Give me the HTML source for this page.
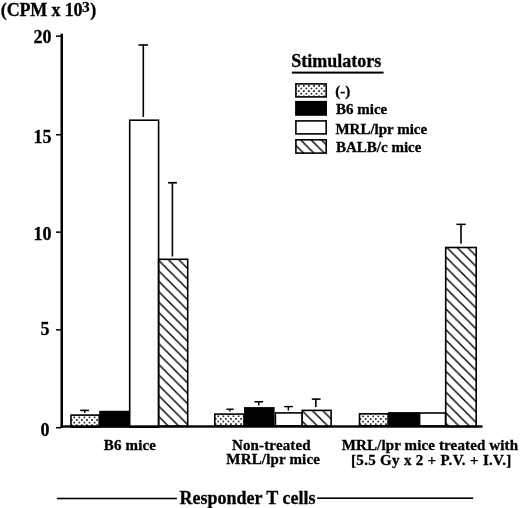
<!DOCTYPE html>
<html><head><meta charset="utf-8"><style>
html,body{margin:0;padding:0;background:#fff;width:520px;height:508px;overflow:hidden}
svg{display:block;will-change:transform}
text{font-family:"Liberation Serif",serif;font-weight:bold;fill:#000;stroke:#000;stroke-width:0.3px}
</style></head><body>
<svg width="520" height="508" viewBox="0 0 520 508">
<defs>
<pattern id="d1" patternUnits="userSpaceOnUse" width="5.1" height="5.2" x="74.2" y="417.4"><circle cx="0" cy="0" r="0.95" fill="#000"/><circle cx="5.1" cy="0" r="0.95" fill="#000"/><circle cx="0" cy="5.2" r="0.95" fill="#000"/><circle cx="5.1" cy="5.2" r="0.95" fill="#000"/><circle cx="2.55" cy="2.6" r="0.95" fill="#000"/></pattern>
<pattern id="d2" patternUnits="userSpaceOnUse" width="5.1" height="5.2" x="218.2" y="416.3"><circle cx="0" cy="0" r="0.95" fill="#000"/><circle cx="5.1" cy="0" r="0.95" fill="#000"/><circle cx="0" cy="5.2" r="0.95" fill="#000"/><circle cx="5.1" cy="5.2" r="0.95" fill="#000"/><circle cx="2.55" cy="2.6" r="0.95" fill="#000"/></pattern>
<pattern id="d3" patternUnits="userSpaceOnUse" width="5.1" height="5.2" x="363" y="416.4"><circle cx="0" cy="0" r="0.95" fill="#000"/><circle cx="5.1" cy="0" r="0.95" fill="#000"/><circle cx="0" cy="5.2" r="0.95" fill="#000"/><circle cx="5.1" cy="5.2" r="0.95" fill="#000"/><circle cx="2.55" cy="2.6" r="0.95" fill="#000"/></pattern>
<pattern id="dl" patternUnits="userSpaceOnUse" width="5.1" height="5.2" x="298.7" y="85.9"><circle cx="0" cy="0" r="0.95" fill="#000"/><circle cx="5.1" cy="0" r="0.95" fill="#000"/><circle cx="0" cy="5.2" r="0.95" fill="#000"/><circle cx="5.1" cy="5.2" r="0.95" fill="#000"/><circle cx="2.55" cy="2.6" r="0.95" fill="#000"/></pattern>
<pattern id="h1" patternUnits="userSpaceOnUse" width="10.4" height="10.4" x="156.8" y="258.5"><path d="M-2,-2 L12.4,12.4 M-2,8.4 L2,12.4 M8.4,-2 L12.4,2" stroke="#000" stroke-width="1.4"/></pattern>
<pattern id="h2" patternUnits="userSpaceOnUse" width="10.4" height="10.4" x="301" y="409.6"><path d="M-2,-2 L12.4,12.4 M-2,8.4 L2,12.4 M8.4,-2 L12.4,2" stroke="#000" stroke-width="1.4"/></pattern>
<pattern id="h3" patternUnits="userSpaceOnUse" width="10.4" height="10.4" x="446" y="246.7"><path d="M-2,-2 L12.4,12.4 M-2,8.4 L2,12.4 M8.4,-2 L12.4,2" stroke="#000" stroke-width="1.4"/></pattern>
<pattern id="hl" patternUnits="userSpaceOnUse" width="10.4" height="10.4" x="299.8" y="139"><path d="M-2,-2 L12.4,12.4 M-2,8.4 L2,12.4 M8.4,-2 L12.4,2" stroke="#000" stroke-width="1.4"/></pattern>
</defs>

<!-- title -->
<text x="0.8" y="16.3" font-size="18" textLength="81.8" lengthAdjust="spacing">(CPM x 10</text><text x="82.1" y="11.65" font-size="15.5">3</text><text x="90.3" y="16.3" font-size="18">)</text>

<!-- y axis labels -->
<g font-size="18" text-anchor="end">
<text x="51.6" y="42.5">20</text>
<text x="51.6" y="143">15</text>
<text x="51.6" y="239.5">10</text>
<text x="49.6" y="334.8">5</text>
<text x="49.4" y="436">0</text>
</g>

<!-- axis -->
<rect x="60.5" y="33.7" width="2.5" height="394.3" fill="#000"/>
<g fill="#000">
<rect x="56" y="35.4" width="5" height="1.5"/>
<rect x="56" y="134" width="5" height="1.5"/>
<rect x="56" y="231.4" width="5" height="1.5"/>
<rect x="56" y="329.1" width="5" height="1.5"/>
<rect x="56" y="426.9" width="5" height="1.6"/>
</g>

<!-- bars -->
<g stroke="#000" stroke-width="1.6">
<!-- group 1 -->
<rect x="71" y="415.1" width="28.2" height="12" fill="url(#d1)"/>
<rect x="100" y="411.6" width="28.9" height="15" fill="#000"/>
<rect x="129.7" y="120.2" width="28.9" height="307" fill="#fff"/>
<rect x="158.6" y="259.3" width="29.1" height="167" fill="url(#h1)"/>
<!-- group 2 -->
<rect x="214.8" y="414.1" width="29.2" height="12" fill="url(#d2)"/>
<rect x="244.8" y="407.9" width="29" height="18" fill="#000"/>
<rect x="275.4" y="412.9" width="26.8" height="13" fill="#fff"/>
<rect x="302.2" y="410.4" width="28.9" height="16" fill="url(#h2)"/>
<!-- group 3 -->
<rect x="359.5" y="413.8" width="28.6" height="12" fill="url(#d3)"/>
<rect x="388.9" y="412.9" width="29.9" height="13" fill="#000"/>
<rect x="419.6" y="413" width="26" height="13" fill="#fff"/>
<rect x="445.7" y="247.5" width="30.5" height="179" fill="url(#h3)"/>
</g>

<!-- baseline -->
<rect x="60.5" y="425.3" width="422" height="2.4" fill="#000"/>

<!-- error bars -->
<g fill="#000">
<!-- g1 dots -->
<rect x="84" y="410.4" width="1.5" height="2.5"/><rect x="80.2" y="409.6" width="8.8" height="1.6"/>
<!-- g1 white -->
<rect x="142.5" y="44.5" width="1.6" height="72.5"/><rect x="138.5" y="44.2" width="9.6" height="1.6"/>
<!-- g1 hatch -->
<rect x="171.6" y="182.5" width="1.6" height="74"/><rect x="168.1" y="181.9" width="8.8" height="1.7"/>
<!-- g2 -->
<rect x="229.3" y="409" width="1.5" height="2.5"/><rect x="226.3" y="408.5" width="7.3" height="1.5"/>
<rect x="258" y="401.5" width="1.5" height="4"/><rect x="254.4" y="401" width="8.7" height="1.5"/>
<rect x="287.6" y="406.5" width="1.5" height="4"/><rect x="284.1" y="405.9" width="8.8" height="1.4"/>
<rect x="315" y="399" width="1.6" height="8"/><rect x="311.8" y="398.3" width="8.8" height="1.6"/>
<!-- g3 hatch -->
<rect x="460.2" y="224" width="1.6" height="19.6"/><rect x="456.4" y="223.6" width="9.3" height="1.5"/>
</g>

<!-- legend -->
<text x="291.2" y="67.3" font-size="18">Stimulators</text>
<rect x="291.8" y="71.6" width="91.8" height="2" fill="#000"/>
<g stroke="#000" stroke-width="1.6">
<rect x="295.9" y="83.9" width="30.3" height="13" fill="url(#dl)"/>
<rect x="295.9" y="101.7" width="30.3" height="13.3" fill="#000"/>
<rect x="295.9" y="120.9" width="30.3" height="13" fill="#fff"/>
<rect x="295.9" y="139.8" width="30.3" height="13.3" fill="url(#hl)"/>
</g>
<g font-size="15">
<text x="335.2" y="95.5">(-)</text>
<text x="336" y="114">B6 mice</text>
<text x="335.4" y="133.5">MRL/lpr mice</text>
<text x="336" y="152">BALB/c mice</text>
</g>

<!-- x labels -->
<g font-size="15" text-anchor="middle">
<text x="129.9" y="450" textLength="52.2">B6 mice</text>
<text x="271.3" y="449.8" textLength="78.7">Non-treated</text>
<text x="273.1" y="464.4" textLength="93.6">MRL/lpr mice</text>
<text x="429.85" y="449.7" textLength="176.3">MRL/lpr mice treated with</text>
<text x="431.2" y="465.3" textLength="160.3">[5.5 Gy x 2 + P.V. + I.V.]</text>
</g>

<!-- responder -->
<rect x="56.9" y="497.7" width="120" height="1.6" fill="#000"/>
<rect x="317.1" y="497.4" width="156.1" height="1.6" fill="#000"/>
<text x="179.5" y="503.5" font-size="18">Responder T cells</text>
</svg>
</body></html>
